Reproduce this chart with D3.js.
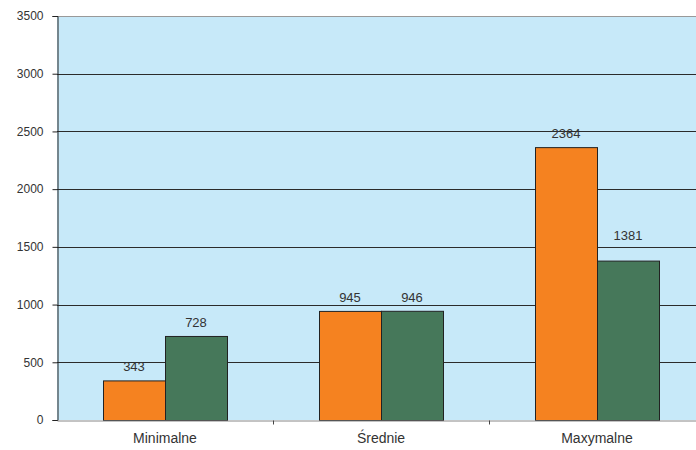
<!DOCTYPE html>
<html>
<head>
<meta charset="utf-8">
<script src="https://cdn.jsdelivr.net/npm/d3@7"></script>
<style>
  body { margin: 0; background: #fff; }
  svg { display: block; font-family: 'Liberation Sans', Arial, sans-serif; }
</style>
</head>
<body>
<div id="chart"></div>
<script>
// data
var categories = ['Minimalne', 'Średnie', 'Maxymalne']
var seriesA = [343, 945, 2364]
var seriesB = [728, 946, 1381]
var yTicks = [0, 500, 1000, 1500, 2000, 2500, 3000, 3500]

var colors = ['#F58220', '#46785A']

var margin = { top: 16, left: 57, right: 0, bottom: 30 }
var width = 696
var height = 450

var svg = d3.select('#chart')
  .append('svg')
  .attr('width', width)
  .attr('height', height)

// plot runs past the right edge, like the source
var plotW = 648
var plotH = 404

var g = svg.append('g')
  .attr('transform', 'translate(' + margin.left + ',' + margin.top + ')')

var xScale = d3.scaleBand()
  .domain(categories)
  .range([0, plotW])

var yScale = d3.scaleLinear()
  .domain([0, 3500])
  .range([plotH, 0])

var inner = d3.scaleBand()
  .domain([0, 1])
  .range([46, xScale.bandwidth() - 46])

// background
g.append('rect')
  .attr('width', plotW)
  .attr('height', plotH)
  .attr('fill', '#C7E9F9')

// gridlines
g.selectAll('.grid')
  .data(yTicks.filter(d => d > 0 && d < 3500))
  .enter()
  .append('line')
  .attr('x1', 0)
  .attr('x2', plotW)
  .attr('y1', d => Math.round(yScale(d)) + 0.5)
  .attr('y2', d => Math.round(yScale(d)) + 0.5)
  .attr('stroke', '#2b2b2b')
  .attr('stroke-width', 1)

// top border
g.append('line')
  .attr('x1', 0).attr('x2', plotW)
  .attr('y1', 0.5).attr('y2', 0.5)
  .attr('stroke', '#999')

var rows = categories.map((c, i) => ({ cat: c, vals: [seriesA[i], seriesB[i]] }))

var groups = g.selectAll('.grp')
  .data(rows)
  .enter()
  .append('g')
  .attr('transform', d => 'translate(' + xScale(d.cat) + ',0)')

groups.selectAll('rect')
  .data(d => d.vals)
  .enter()
  .append('rect')
  .attr('x', (d, i) => inner(i) + 0.5)
  .attr('y', d => yScale(d) + 0.5)
  .attr('width', inner.bandwidth())
  .attr('height', d => plotH - yScale(d))
  .attr('fill', (d, i) => colors[i])
  .attr('stroke', '#222')
  .attr('stroke-width', 1)

groups.selectAll('.val')
  .data(d => d.vals)
  .enter()
  .append('text')
  .attr('x', (d, i) => inner(i) + inner.bandwidth() / 2)
  // the 1381 label sits higher in the original, clear of the 1500 line
  .attr('y', (d, i) => yScale(d) - (d === 1381 ? 21 : 9))
  .attr('text-anchor', 'middle')
  .attr('font-size', '13px')
  .attr('fill', '#333')
  .text(d => d)

// axes
var yAxis = d3.axisLeft(yScale)
  .tickValues(yTicks)
  .tickFormat(d3.format('d'))
  .tickSize(5)
  .tickPadding(9)
g.append('g')
  .attr('class', 'axis y-axis')
  .attr('transform', 'translate(0.5,0)')
  .call(yAxis)
  .call(s => s.select('.domain').attr('stroke', '#222'))
  .call(s => s.selectAll('.tick line').attr('stroke', '#222'))
  .call(s => s.selectAll('.tick text').attr('font-size', '12px').attr('fill', '#333').attr('font-family', "'Liberation Sans', Arial, sans-serif"))

var xAxis = d3.axisBottom(xScale).tickSize(0).tickPadding(13)
var xg = g.append('g')
  .attr('class', 'axis x-axis')
  .attr('transform', 'translate(0,' + (plotH + 0.5) + ')')
  .call(xAxis)
xg.select('.domain').attr('stroke', '#888')
xg.selectAll('.tick text')
  .attr('font-size', '14px')
  .attr('fill', '#333')
  .attr('font-family', "'Liberation Sans', Arial, sans-serif")

// category separators below the axis
xg.selectAll('.sep')
  .data(categories.slice(1))
  .enter()
  .append('line')
  .attr('x1', d => Math.round(xScale(d)) + 0.5)
  .attr('x2', d => Math.round(xScale(d)) + 0.5)
  .attr('y1', 0)
  .attr('y2', 4)
  .attr('stroke', '#444')
</script>
</body>
</html>
